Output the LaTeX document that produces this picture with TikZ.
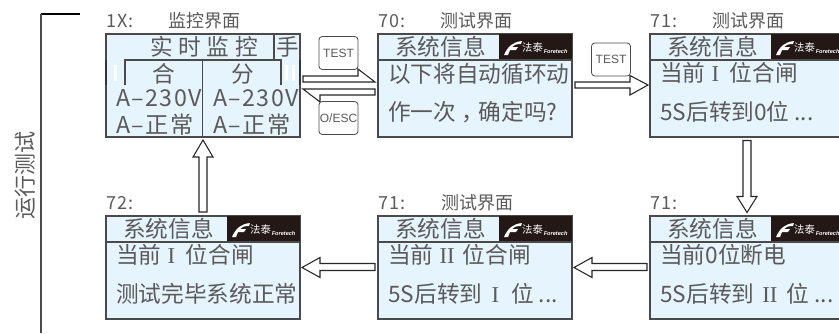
\documentclass[tikz,border=0pt]{standalone}
\usepackage{fontspec}
\usetikzlibrary{calc}
\setmainfont{Noto Sans CJK SC}
\newfontfamily\spacedfont[LetterSpace=6]{Noto Sans CJK SC}
\newfontfamily\logofont[AutoFakeSlant=0.25,AutoFakeBold=3]{Noto Sans CJK SC}
\newfontfamily\latinfont{Liberation Sans}
\newfontfamily\romanfont{Liberation Serif}
\definecolor{scr}{HTML}{E6F4FD}
\definecolor{ink}{HTML}{5A5A5A}
\definecolor{edge}{HTML}{4A4A4A}
\definecolor{logobg}{HTML}{231815}
\newlength{\px}\setlength{\px}{0.75pt}
\tikzset{
  screen/.style={draw=edge,line width=1pt,fill=scr,minimum width=194\px,minimum height=103\px,inner sep=0pt,outer sep=0pt},
  label/.style={text=ink,anchor=west,inner sep=0pt,font=\fontsize{13.5pt}{14pt}\selectfont},
  header/.style={text=ink,inner sep=0pt,font=\fontsize{17pt}{18pt}\selectfont},
  bodytext/.style={text=ink,anchor=west,inner sep=0pt,font=\fontsize{17pt}{18pt}\selectfont},
  bigtext/.style={text=ink,anchor=west,inner sep=0pt,font=\spacedfont\fontsize{17.4pt}{18pt}\selectfont},
  keybtn/.style={draw=edge,line width=.6pt,fill=white,rounded corners=2.5pt,minimum width=39\px,minimum height=33\px,inner sep=0pt,text=ink,font=\latinfont\fontsize{9pt}{10pt}\selectfont},
  blockarrow/.style={draw=black!85,line width=.8pt,fill=white,line join=miter},
  divider/.style={draw=edge,line width=1pt}
}
\newcommand{\gapsp}{\hspace{4.3pt}}
\newcommand{\romI}{\hspace{4.5pt}{\romanfont I}\hspace{8pt}}
\newcommand{\romII}{\hspace{4.5pt}{\romanfont II}\hspace{6pt}}
\newcommand{\wideI}{\hspace{7pt}{\romanfont I}\hspace{9pt}}
\newcommand{\wideII}{\hspace{6pt}{\romanfont II}\hspace{7pt}}
\newcommand{\screenhead}[1]{%
  \fill[logobg] ($(#1.north east)+(-73,0)$) rectangle ($(#1.north east)+(0,26)$);
  \draw[divider] ($(#1.north west)+(0,26)$) -- ($(#1.north east)+(0,26)$);
  \fill[white] ($(#1.north east)+(-68,21)$) .. controls ($(#1.north east)+(-64,12)$) and ($(#1.north east)+(-59,8)$) .. ($(#1.north east)+(-50,7)$) -- ($(#1.north east)+(-51,10)$) .. controls ($(#1.north east)+(-56,10)$) and ($(#1.north east)+(-58,11)$) .. ($(#1.north east)+(-60,13)$) -- ($(#1.north east)+(-54,13)$) -- ($(#1.north east)+(-56,16)$) -- ($(#1.north east)+(-62,16)$) -- ($(#1.north east)+(-64,21)$) -- cycle;
  \node[inner sep=0pt,text=white,font=\logofont\fontsize{7.8pt}{8pt}\selectfont] (#1logo) at ($(#1.north east)+(-39.5,14)$) {法泰};
  \node[inner sep=0pt,anchor=west,text=white,font=\latinfont\fontsize{4.2pt}{5pt}\selectfont\bfseries\itshape] (#1brand) at ($(#1.north east)+(-28.5,17)$) {Foretech};
  \node[header] (#1title) at ($(#1.north west)+(62.5,13)$) {系统信息};
}
\begin{document}
\begin{tikzpicture}[x=0.75pt,y=-0.75pt]
\useasboundingbox (0,0) rectangle (839,333);
\clip (0,0) rectangle (839,333);

% bracket
\coordinate (brtop) at (80,14);
\coordinate (brcorner) at (41,14);
\coordinate (brbottom) at (41,333);
\draw[line width=.8pt,black] (brtop) -- (brcorner);
\draw[line width=1pt,edge] (brcorner) -- (brbottom);
\node[text=ink,inner sep=0pt,rotate=90,font=\fontsize{16.5pt}{17pt}\selectfont] (side) at (25,175.5) {运行测试};

% screens
\node[screen] (s1) at (203,85.5) {};
\node[screen] (s2) at (475,85.5) {};
\node[screen] (s3) at (747,85.5) {};
\node[screen] (s4) at (747,267.5) {};
\node[screen] (s5) at (475,267.5) {};
\node[screen] (s6) at (203,267.5) {};

% labels above
\node[label] (l1) at (106,21) {\spacedfont 1X:};
\node[label] (t1) at (168,21) {监控界面};
\node[label] (l2) at (378,21) {\spacedfont 70:};
\node[label] (t2) at (440,21) {测试界面};
\node[label] (l3) at (650,21) {\spacedfont 71:};
\node[label] (t3) at (712,21) {测试界面};
\node[label] (l6) at (106,203) {\spacedfont 72:};
\node[label] (l5) at (378,203) {\spacedfont 71:};
\node[label] (t5) at (441,203) {测试界面};
\node[label] (l4) at (650,203) {\spacedfont 71:};

% screen 1 detail
\draw[divider] ($(s1.north west)+(168,0)$) -- ($(s1.north west)+(168,26)$);
\draw[divider] ($(s1.north west)+(19,51)$) -- ($(s1.north west)+(19,26)$) -- ($(s1.north west)+(175,26)$) -- ($(s1.north west)+(175,51)$);
\draw[divider] ($(s1.north west)+(96.5,26)$) -- ($(s1.south west)+(96.5,0)$);
\fill[white] ($(s1.north west)+(8,31)$) rectangle ($(s1.north west)+(11,47)$);
\fill[white] ($(s1.north west)+(179,31)$) rectangle ($(s1.north west)+(182,47)$);
\fill[white] ($(s1.north west)+(186,31)$) rectangle ($(s1.north west)+(189,47)$);
\draw[line width=1.6pt,edge!70!black] ($(s1.north west)+(0,26)$) -- ($(s1.north west)+(0,51)$);
\draw[line width=1.6pt,edge!70!black] ($(s1.north east)+(0,26)$) -- ($(s1.north east)+(0,51)$);
\node[header] (s1title) at (204,47) {实\gapsp 时\gapsp 监\gapsp 控};
\node[header] (s1mode) at (287.5,47) {手};
\node[header] (s1a) at (164,74) {合};
\node[header] (s1b) at (243,74) {分};
\node[bigtext] (s1c) at (116,98.5) {A–230V};
\node[bigtext] (s1d) at (213,98.5) {A–230V};
\node[bigtext] (s1e) at (116,125) {A–正常};
\node[bigtext] (s1f) at (213,125) {A–正常};

% headers
\screenhead{s2}
\screenhead{s3}
\screenhead{s4}
\screenhead{s5}
\screenhead{s6}

% bodies
\node[bodytext] (b2a) at (388,74) {以下将自动循环动};
\node[bodytext] (b2b) at (388,112) {作一次\hspace{4pt}，\hspace{-4pt}确定吗?};
\node[bodytext] (b3a) at (660,73) {当前\romI 位合闸};
\node[bodytext] (b3b) at (660,112) {5S后转到0位 ...};
\node[bodytext] (b4a) at (660,255) {当前0位断电};
\node[bodytext] (b4b) at (660,294) {5S后转到\wideII 位 ...};
\node[bodytext] (b5a) at (388,255) {当前\romII 位合闸};
\node[bodytext] (b5b) at (388,294) {5S后转到\wideI 位 ...};
\node[bodytext] (b6a) at (116,255) {当前\romI 位合闸};
\node[bodytext] (b6b) at (116,294) {测试完毕系统正常};

% block arrows
\coordinate (a12) at ($(s2.west)+(-3,-3.5)$);
\draw[blockarrow] (a12) -- ++(-72,0) -- ++(0,-6) -- ++(55,0) -- ++(0,-7) -- cycle;
\coordinate (a21) at ($(s1.east)+(3,3.5)$);
\draw[blockarrow] (a21) -- ++(72,0) -- ++(0,6) -- ++(-55,0) -- ++(0,7) -- cycle;
\coordinate (a23) at ($(s3.west)+(-2,-0.5)$);
\draw[blockarrow] (a23) -- ++(-18,-9.5) -- ++(0,6.5) -- ++(-55,0) -- ++(0,6) -- ++(55,0) -- ++(0,7) -- cycle;
\coordinate (a34) at ($(s4.north)+(0,-3.5)$);
\draw[blockarrow] (a34) -- ++(-10,-16) -- ++(6,0) -- ++(0,-56) -- ++(8,0) -- ++(0,56) -- ++(6,0) -- cycle;
\coordinate (a45) at ($(s5.east)+(2,0)$);
\draw[blockarrow] (a45) -- ++(18,-10) -- ++(0,6) -- ++(55,0) -- ++(0,7) -- ++(-55,0) -- ++(0,7) -- cycle;
\coordinate (a56) at ($(s6.east)+(2,0)$);
\draw[blockarrow] (a56) -- ++(18,-10) -- ++(0,6) -- ++(55,0) -- ++(0,7) -- ++(-55,0) -- ++(0,7) -- cycle;
\coordinate (a61) at ($(s1.south)+(0,3)$);
\draw[blockarrow] (a61) -- ++(-10,17) -- ++(6,0) -- ++(0,55) -- ++(8,0) -- ++(0,-55) -- ++(6,0) -- cycle;

% keys
\node[keybtn] (k1) at (338.5,53) {TEST};
\node[keybtn] (k2) at (338.5,118) {O/ESC};
\node[keybtn] (k3) at (611,59.5) {TEST};
\end{tikzpicture}
\end{document}
